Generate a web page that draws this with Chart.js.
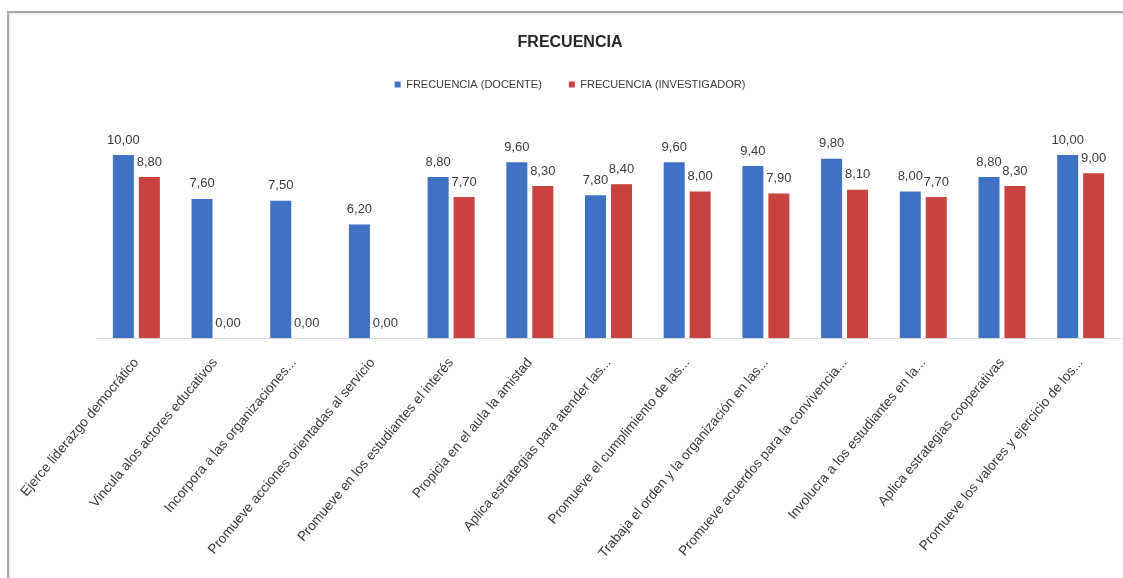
<!DOCTYPE html>
<html lang="es">
<head>
<meta charset="utf-8">
<title>Frecuencia</title>
<script src="https://cdn.jsdelivr.net/npm/chart.js@4.4.1/dist/chart.umd.min.js"></script>
<style>
    html, body {
        margin: 0;
        padding: 0;
        background: #ffffff;
        overflow: hidden;
    }
    #frame {
        position: absolute;
        left: 7px;
        top: 11px;
        width: 1200px;
        height: 700px;
        border-top: 2px solid #a9a9a9;
        border-left: 2px solid #a9a9a9;
        box-shadow: inset 1px 1px 2px rgba(0, 0, 0, 0.12);
    }
    #chartBox {
        position: absolute;
        left: 0;
        top: 0;
        width: 1123px;
        height: 578px;
    }
</style>
</head>
<body>
<div id="frame"></div>
<div id="chartBox">
    <canvas id="frecuenciaChart" width="1123" height="578"></canvas>
</div>

<script>
// Indicadores evaluados (etiquetas del eje X, ya recortadas)
const categories = [
    'Ejerce liderazgo democrático',
    'Vincula alos actores educativos',
    'Incorpora a las organizaciones...',
    'Promueve acciones orientadas al servicio',
    'Promueve en los estudiantes el interés',
    'Propicia en el aula la amistad',
    'Aplica estrategias para atender las...',
    'Promueve el cumplimiento de las...',
    'Trabaja el orden y la organización en las...',
    'Promueve acuerdos para la convivencia...',
    'Involucra a los estudiantes en la...',
    'Aplica estrategias cooperativas',
    'Promueve los valores y ejercicio de los...'
];

const seriesNames = ['FRECUENCIA (DOCENTE)', 'FRECUENCIA (INVESTIGADOR)'];

const docenteValues = [10.0, 7.6, 7.5, 6.2, 8.8, 9.6, 7.8, 9.6, 9.4, 9.8, 8.0, 8.8, 10.0];
const investigadorValues = [8.8, 0.0, 0.0, 0.0, 7.7, 8.3, 8.4, 8.0, 7.9, 8.1, 7.7, 8.3, 9.0];

const BLUE = '#4072C4';
const RED = '#C8423F';
const TEXT_COLOR = '#3a3a3a';

Chart.defaults.font.family = '"Liberation Sans", Arial, sans-serif';
Chart.defaults.color = TEXT_COLOR;

// Valores encima de cada barra, con coma decimal
const valueLabels = {
    id: 'valueLabels',
    afterDatasetsDraw(chart) {
        const ctx = chart.ctx;
        ctx.save();
        ctx.font = '13px "Liberation Sans", Arial, sans-serif';
        ctx.fillStyle = TEXT_COLOR;
        ctx.textAlign = 'center';
        ctx.textBaseline = 'middle';
        chart.data.datasets.forEach((ds, i) => {
            const meta = chart.getDatasetMeta(i);
            meta.data.forEach((bar, j) => {
                const text = ds.data[j].toFixed(2).replace('.', ',');
                ctx.fillText(text, bar.x, bar.y - 15);
            });
        });
        ctx.restore();
    }
};

// Fixes the legend block height so the plot starts at the same place
const legendSpacer = {
    id: 'legendSpacer',
    beforeInit(chart) {
        const origFit = chart.legend.fit;
        chart.legend.fit = function () {
            origFit.call(this);
            this.height = 103;
        };
    }
};

const ctx = document.getElementById('frecuenciaChart').getContext('2d');
const chart = new Chart(ctx, {
    type: 'bar',
    data: {
        labels: categories,
        datasets: [
            {
                label: seriesNames[0],
                data: docenteValues,
                backgroundColor: BLUE,
                categoryPercentage: 0.66,
                barPercentage: 0.81
            },
            {
                label: seriesNames[1],
                data: investigadorValues,
                backgroundColor: RED,
                categoryPercentage: 0.66,
                barPercentage: 0.81
            }
        ]
    },
    options: {
        responsive: false,
        animation: false,
        layout: {
            padding: { left: 20, right: 3, top: 0, bottom: 0 }
        },
        plugins: {
            title: {
                display: true,
                text: 'FRECUENCIA',
                color: '#262626',
                font: {
                    family: '"Liberation Sans Narrow", "Liberation Sans", Arial, sans-serif',
                    size: 16,
                    weight: 'bold',
                    lineHeight: 1
                },
                padding: { top: 35, bottom: 1 }
            },
            legend: {
                display: true,
                position: 'top',
                labels: {
                    boxWidth: 6,
                    boxHeight: 6,
                    padding: 27,
                    color: TEXT_COLOR,
                    font: { size: 11 }
                }
            },
            tooltip: { enabled: false }
        },
        scales: {
            x: {
                grid: { display: false },
                border: { display: true, color: '#d4d4d4', width: 1 },
                ticks: {
                    autoSkip: false,
                    minRotation: 50,
                    maxRotation: 50,
                    padding: 9,
                    color: TEXT_COLOR,
                    font: { size: 13.6 }
                },
                afterFit(scale) {
                    scale.height = 240;
                    scale.paddingLeft = 97;
                    scale.paddingRight = 3;
                }
            },
            y: {
                display: false,
                min: 0,
                max: 10
            }
        }
    },
    plugins: [valueLabels, legendSpacer]
});
</script>
</body>
</html>
